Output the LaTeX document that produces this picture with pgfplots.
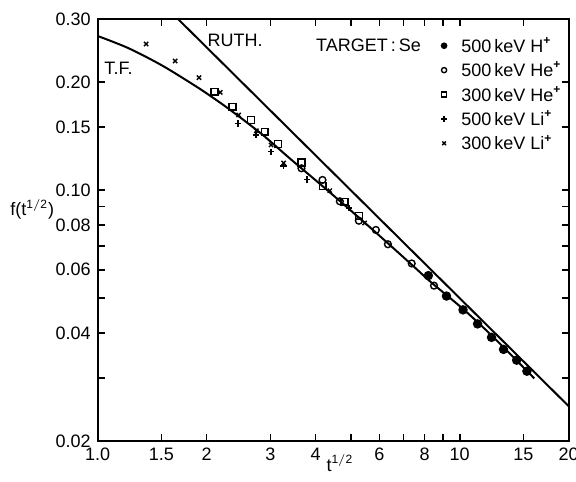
\documentclass[border=0pt]{standalone}
\usepackage{fontspec}
\setmainfont{Liberation Sans}
\usepackage{pgfplots}
\pgfplotsset{compat=1.18}
\begin{document}
\begin{tikzpicture}[font=\fontsize{9}{10.8}\selectfont]
\begin{axis}[
  at={(0,0)}, anchor=south west,
  scale only axis, width=235.5pt, height=211pt,
  xmode=log, ymode=log,
  xmin=1, xmax=20, ymin=0.02, ymax=0.30,
  xtick={1,1.5,2,3,4,5,6,7,8,9,10,15,20},
  xticklabels={1.0,1.5,2,3,4,,6,,8,,10,15,20},
  ytick={0.02,0.03,0.04,0.05,0.06,0.07,0.08,0.09,0.10,0.15,0.20,0.30},
  yticklabels={0.02,,0.04,,0.06,,0.08,,0.10,0.15,0.20,0.30},
  minor xtick={}, minor ytick={},
  tick align=inside, major tick length=3.5pt,
  axis line style={line width=1pt},
  every tick/.style={black, line width=0.8pt},
  /pgf/number format/assume math mode=true,
  tick label style={font=\fontsize{9}{10.8}\selectfont},
  clip=true,
  legend style={at={(rel axis cs:0.721,0.953)}, anchor=north west, draw=none, fill=none,
    inner sep=0pt, row sep=5.7pt,
    nodes={inner sep=0pt, text height=6.5pt, text depth=0pt},
    /tikz/every odd column/.append style={column sep=0pt},
    font=\fontsize{9}{10.8}\selectfont},
  legend cell align=left,
  legend image code/.code={\draw[#1, mark size=1.3pt] plot coordinates {(0pt,0pt)}; \path (-3pt,0pt) (8.4pt,0pt);},
]
% data series
\addplot[only marks, mark=*, mark size=2pt, mark options={fill=black, line width=0.7pt}] coordinates {
(8.19,0.0578) (9.19,0.0507) (10.21,0.0464) (11.20,0.0424) (12.24,0.0389) (13.21,0.0360) (14.36,0.0336) (15.33,0.0313)
};
\addlegendentry{500\,keV H\textsuperscript{\textbf{+}}}
\addplot[only marks, mark=o, mark size=1.7pt, mark options={fill=white, line width=0.7pt}] coordinates {
(3.654,0.1151) (4.177,0.1068) (4.665,0.0931) (5.265,0.0822) (5.867,0.0775) (6.333,0.0707) (7.367,0.0625) (8.49,0.0542)
};
\addlegendentry{500\,keV He\textsuperscript{\textbf{+}}}
\addplot[only marks, mark=square, mark size=1.7pt, mark options={fill=white, line width=0.7pt}] coordinates {
(2.102,0.1881) (2.358,0.1708) (2.652,0.1569) (2.892,0.1455) (3.149,0.1345) (3.654,0.1194) (4.185,0.1027) (4.806,0.0929) (5.265,0.0848)
};
\addlegendentry{300\,keV He\textsuperscript{\textbf{+}}}
\addplot[only marks, mark=+, mark size=1.6pt, mark options={line width=0.7pt}] coordinates {
(2.441,0.1536) (2.738,0.1425) (3.012,0.1280) (3.264,0.1168) (3.789,0.1072) (4.940,0.0892)
};
\addlegendentry{500\,keV Li\textsuperscript{\textbf{+}}}
\addplot[only marks, mark=x, mark size=1.5pt, mark options={line width=0.7pt}] coordinates {
(1.360,0.2555) (1.637,0.2291) (1.904,0.2059) (2.180,0.1874) (2.450,0.1620) (2.743,0.1465) (3.012,0.1337) (3.264,0.1191) (4.377,0.0997) (5.460,0.0810)
};
\addlegendentry{300\,keV Li\textsuperscript{\textbf{+}}}
% Rutherford line
\addplot[black, line width=1pt, forget plot] coordinates {(1.6,0.3125) (20,0.025)};
% Thomas-Fermi curve
\addplot[black, line width=1pt, smooth, tension=0.5, forget plot] coordinates {
(1.0,0.269) (1.215,0.2489) (1.504,0.2228) (1.859,0.1954) (2.089,0.1806) (2.349,0.1660)
(2.844,0.1431) (3.407,0.1222) (4.2,0.1022) (5.0,0.0878) (6.044,0.0742) (7.37,0.0620)
(8.35,0.0553) (10.28,0.0464) (12.5,0.0386) (16.06,0.0299)
};
\end{axis}
\node at (68.7pt,200.5pt) {RUTH.};
\node at (10.4pt,186.2pt) {T.F.};
\node at (135.4pt,197.75pt) {TARGET\,:\,Se};
\node[anchor=base west, inner sep=0pt] at (-43.85pt,112.5pt) {f(t$^{\mathrm{1/2}}$)};
\node[anchor=base west, inner sep=0pt] at (114.2pt,-15pt) {t$^{\mathrm{1/2}}$};
\pgfresetboundingbox
\path (-48.85pt,-20pt) rectangle (239.15pt,220.5pt);
\end{tikzpicture}
\end{document}
